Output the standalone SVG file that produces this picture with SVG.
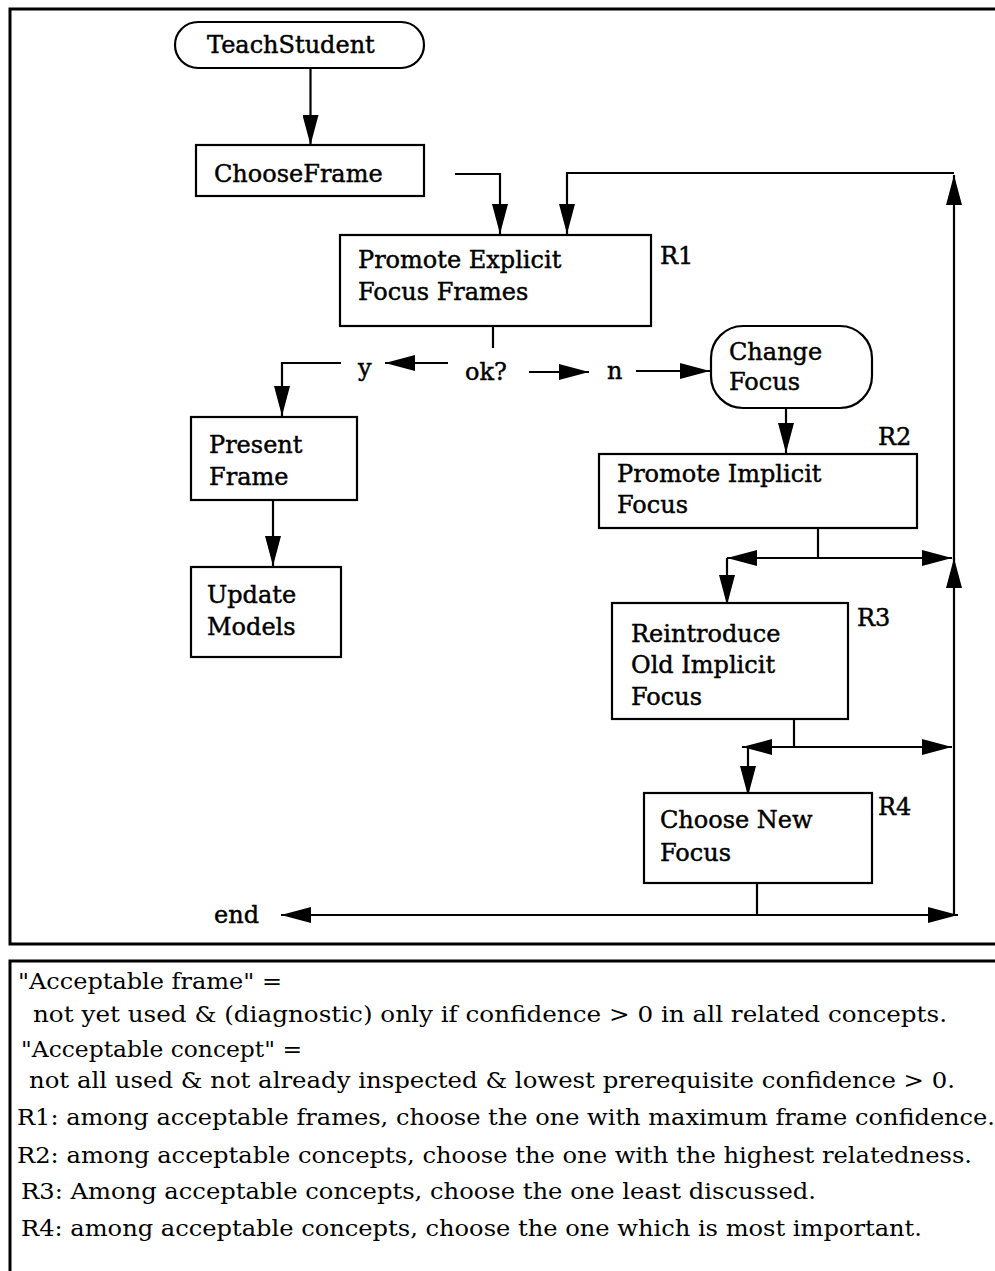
<svg xmlns="http://www.w3.org/2000/svg" width="995" height="1271" viewBox="0 0 995 1271">
  <style>
    .frame { fill: none; stroke: #000; stroke-width: 3; }
    .box { fill: #fff; stroke: #000; stroke-width: 2.2; }
    .lbl { font-family: "DejaVu Serif", "Liberation Serif", serif; font-size: 24px; fill: #000; stroke: #000; stroke-width: 0.45; }
    .note { font-family: "DejaVu Serif", "Liberation Serif", serif; font-size: 22px; fill: #000; }
    .wire { fill: none; stroke: #000; stroke-width: 2.2; }
    .arr { fill: none; stroke: #000; stroke-width: 2.2; marker-end: url(#head); }
  </style>
  <defs>
    <marker id="head" markerUnits="userSpaceOnUse" markerWidth="31" markerHeight="16" refX="30" refY="8" orient="auto">
      <path d="M0,0 L30,8 L0,16 Z" fill="#000"/>
    </marker>
  </defs>

  <rect width="995" height="1271" fill="#fff"/>

  <!-- outer frames -->
  <rect class="frame" x="10" y="9" width="1000" height="935"/>
  <rect class="frame" x="10" y="961" width="1000" height="330"/>

  <!-- connectors -->
  <g id="connectors">
    <path class="arr" d="M310.5,68 V145"/>
    <path class="arr" d="M455,174 H500 V234"/>
    <path class="arr" d="M954,173 H567 V234"/>
    <path class="arr" d="M954,915 V558"/>
    <path class="arr" d="M954,560 V175"/>
    <path class="wire" d="M493,326 V348"/>
    <path class="arr" d="M448,363 H385"/>
    <path class="arr" d="M341,363 H282 V416"/>
    <path class="arr" d="M273,500 V566"/>
    <path class="arr" d="M529,372 H589"/>
    <path class="arr" d="M636,371 H710"/>
    <path class="arr" d="M786,408 V453"/>
    <path class="wire" d="M818,528 V558"/>
    <path class="arr" d="M818,558 H727"/>
    <path class="arr" d="M818,558 H952"/>
    <path class="arr" d="M727,558 V605"/>
    <path class="wire" d="M794,719 V747"/>
    <path class="arr" d="M794,747 H742"/>
    <path class="arr" d="M794,747 H952"/>
    <path class="arr" d="M748,747 V796"/>
    <path class="wire" d="M757,883 V915"/>
    <path class="arr" d="M757,915 H281"/>
    <path class="arr" d="M757,915 H958"/>
  </g>

  <g id="teach-student">
    <rect class="box" x="175" y="22" width="249" height="46" rx="23"/>
    <text class="lbl" x="207" y="53">TeachStudent</text>
  </g>
  <g id="choose-frame">
    <rect class="box" x="196" y="145" width="228" height="51"/>
    <text class="lbl" x="214" y="182">ChooseFrame</text>
  </g>
  <g id="promote-explicit">
    <rect class="box" x="340" y="235" width="311" height="91"/>
    <text class="lbl" x="358" y="268">Promote Explicit</text>
    <text class="lbl" x="358" y="300">Focus Frames</text>
    <text class="lbl" x="660" y="264">R1</text>
  </g>
  <g id="decision">
    <text class="lbl" x="465" y="380">ok?</text>
    <text class="lbl" x="358" y="376">y</text>
    <text class="lbl" x="607" y="379">n</text>
  </g>
  <g id="present-frame">
    <rect class="box" x="191" y="417" width="166" height="83"/>
    <text class="lbl" x="209" y="453">Present</text>
    <text class="lbl" x="209" y="485">Frame</text>
  </g>
  <g id="update-models">
    <rect class="box" x="191" y="567" width="150" height="90"/>
    <text class="lbl" x="207" y="603">Update</text>
    <text class="lbl" x="207" y="635">Models</text>
  </g>
  <g id="change-focus">
    <rect class="box" x="711" y="326" width="161" height="82" rx="32"/>
    <text class="lbl" x="729" y="360">Change</text>
    <text class="lbl" x="729" y="390">Focus</text>
  </g>
  <g id="promote-implicit">
    <rect class="box" x="599" y="454" width="318" height="74"/>
    <text class="lbl" x="617" y="482">Promote Implicit</text>
    <text class="lbl" x="617" y="513">Focus</text>
    <text class="lbl" x="878" y="445">R2</text>
  </g>
  <g id="reintroduce">
    <rect class="box" x="612" y="603" width="236" height="116"/>
    <text class="lbl" x="631" y="642">Reintroduce</text>
    <text class="lbl" x="631" y="673">Old Implicit</text>
    <text class="lbl" x="631" y="705">Focus</text>
    <text class="lbl" x="857" y="626">R3</text>
  </g>
  <g id="choose-new-focus">
    <rect class="box" x="644" y="793" width="228" height="90"/>
    <text class="lbl" x="660" y="828">Choose New</text>
    <text class="lbl" x="660" y="861">Focus</text>
    <text class="lbl" x="878" y="815">R4</text>
  </g>
  <g id="end">
    <text class="lbl" x="214" y="923">end</text>
  </g>

  <!-- rule notes -->
  <g id="notes">
    <text class="note" x="18" y="989" textLength="264" lengthAdjust="spacingAndGlyphs">"Acceptable frame" =</text>
    <text class="note" x="33" y="1022" textLength="914" lengthAdjust="spacingAndGlyphs">not yet used &amp; (diagnostic) only if confidence &gt; 0 in all related concepts.</text>
    <text class="note" x="21" y="1057" textLength="281" lengthAdjust="spacingAndGlyphs">"Acceptable concept" =</text>
    <text class="note" x="29" y="1088" textLength="926" lengthAdjust="spacingAndGlyphs">not all used &amp; not already inspected &amp; lowest prerequisite confidence &gt; 0.</text>
    <text class="note" x="17" y="1125" textLength="978" lengthAdjust="spacingAndGlyphs">R1: among acceptable frames, choose the one with maximum frame confidence.</text>
    <text class="note" x="17" y="1163" textLength="955" lengthAdjust="spacingAndGlyphs">R2: among acceptable concepts, choose the one with the highest relatedness.</text>
    <text class="note" x="21" y="1199" textLength="795" lengthAdjust="spacingAndGlyphs">R3: Among acceptable concepts, choose the one least discussed.</text>
    <text class="note" x="21" y="1236" textLength="901" lengthAdjust="spacingAndGlyphs">R4: among acceptable concepts, choose the one which is most important.</text>
  </g>
</svg>
